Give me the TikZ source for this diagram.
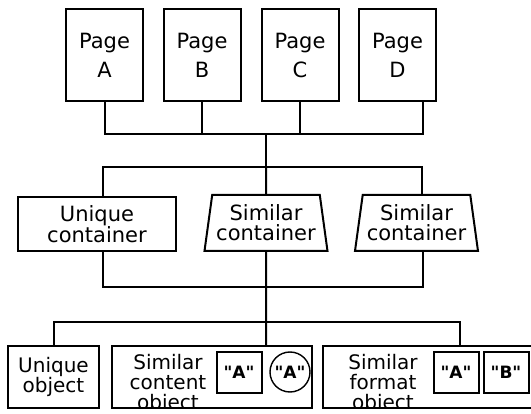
\documentclass[tikz,border=0pt]{standalone}
\usepackage{fontspec}
\setmainfont{DejaVu Sans}[Ligatures=TeXOff]
\usetikzlibrary{shapes.geometric}
\newcommand{\qA}{"A"}
\newcommand{\qB}{"B"}
\begin{document}
\begin{tikzpicture}[
    x=1pt,y=-1pt,
    line width=2pt,
    page/.style={draw,minimum width=77pt,minimum height=92pt,inner sep=0pt,
      align=center,font=\fontsize{21}{29}\selectfont},
    cont/.style={draw,minimum width=158pt,minimum height=54pt,inner sep=0pt,
      align=center,font=\fontsize{21}{20}\selectfont},
    simcont/.style={draw,trapezium,trapezium left angle=78,trapezium right angle=78,
      trapezium stretches body,minimum width=123pt,minimum height=56pt,inner sep=0pt,
      align=center,font=\fontsize{21}{20}\selectfont},
    obj/.style={draw,minimum height=62pt,inner sep=0pt},
    objtext/.style={align=center,inner sep=0pt,font=\fontsize{20}{20}\selectfont},
    qbox/.style={draw,minimum width=45pt,minimum height=41pt,inner sep=0pt,
      font=\fontsize{17}{17}\selectfont\bfseries},
    qcirc/.style={draw,circle,line width=1.4pt,minimum size=40pt,inner sep=0pt,
      font=\fontsize{17}{17}\selectfont\bfseries}]
 \useasboundingbox (0,0) rectangle (531,414);
 \clip (0,0) rectangle (531,414);
 % pages
 \node[page] (pa) at (104.5,55) {Page\\A};
 \node[page] (pb) at (202,55) {Page\\B};
 \node[page] (pc) at (300,55) {Page\\C};
 \node[page] (pd) at (397.5,55) {Page\\D};
 % containers
 \node[cont] (uc) at (97,224) {Unique\\container};
 \node[simcont] (sc1) at (266,223) {Similar\\container};
 \node[simcont] (sc2) at (416.5,223) {Similar\\container};
 % objects
 \node[obj,minimum width=91pt] (uo) at (53.5,377) {};
 \node[obj,minimum width=200pt] (so) at (212,377) {};
 \node[obj,minimum width=237pt] (fo) at (441.5,377) {};
 \begin{scope}
  \clip (0,340) rectangle (531,408);
  \node[objtext] (uot) at (uo) {Unique\\object};
  \node[objtext,anchor=north] (sot) at (168,353) {Similar\\content\\object};
  \node[objtext,anchor=north] (fot) at (383,353) {Similar\\format\\object};
 \end{scope}
 \node[qbox] (sa) at (239,372.5) {\qA};
 \node[qcirc] (sca) at (290,372) {\qA};
 \node[qbox] (fa) at (456,372.5) {\qA};
 \node[qbox] (fb) at (506,372.5) {\qB};
 % junctions
 \coordinate (h1) at (266,134);
 \coordinate (h2) at (266,167);
 \coordinate (h3) at (266,287);
 \coordinate (h4) at (266,322);
 % lines
 \draw (pa.south) |- (h1) -| ([xshift=25pt]pd.south);
 \draw (pb.south) -- (pb.south |- h1);
 \draw (pc.south) -- (pc.south |- h1);
 \draw (h1) -- (h2);
 \draw ([xshift=6pt]uc.north) |- (h2) -| ([xshift=5pt]sc2.north);
 \draw (h2) -- (sc1.north);
 \draw ([xshift=6pt]uc.south) |- (h3) -| ([xshift=6pt]sc2.south);
 \draw (sc1.south) -- (h3) -- (so.north -| h3);
 \draw (uo.north) |- (h4) -| ([xshift=18.5pt]fo.north);
\end{tikzpicture}
\end{document}
